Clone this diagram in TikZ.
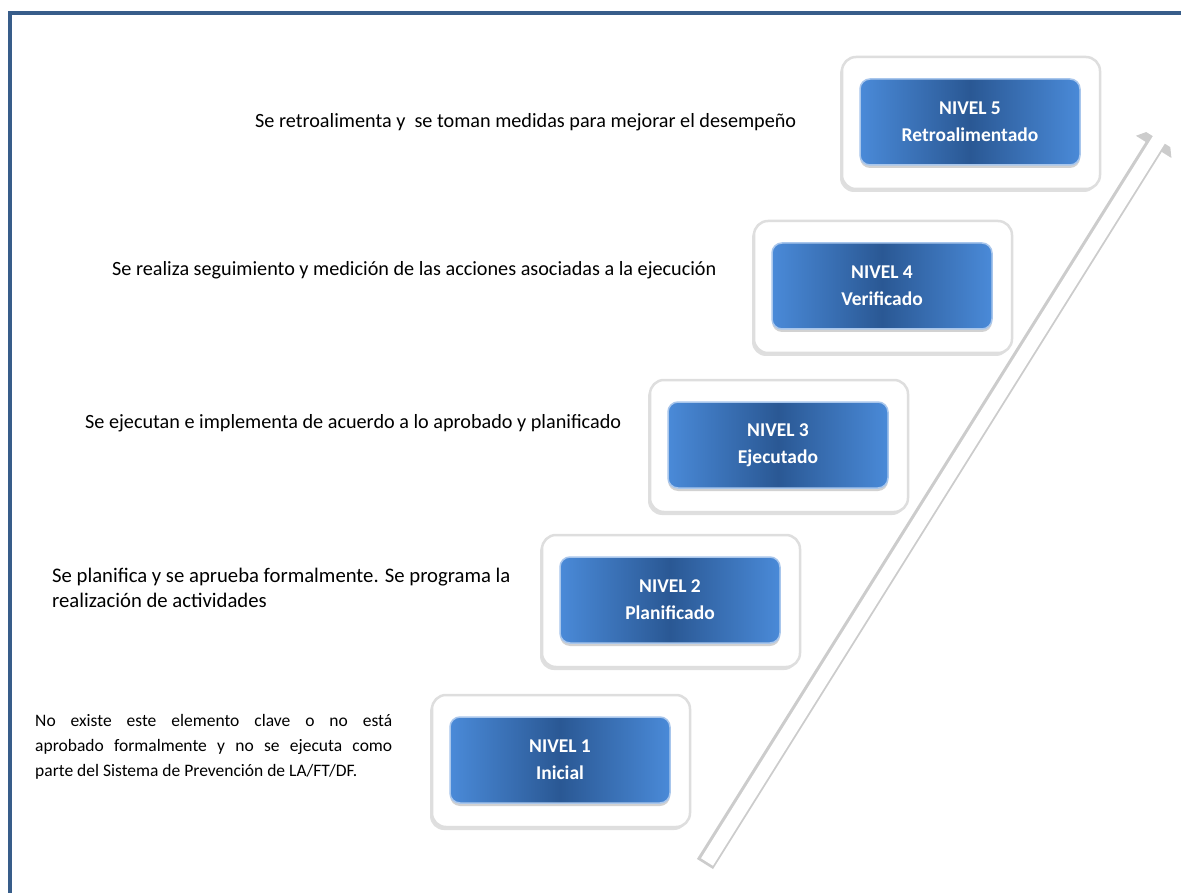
\documentclass[tikz,border=0pt]{standalone}
\usepackage{fontspec}
\setmainfont{Carlito}
\usetikzlibrary{arrows.meta,shadows,positioning}

\definecolor{marcoazul}{HTML}{385D8A}
\definecolor{azulborde}{HTML}{4A8AD8}
\definecolor{azulcentro}{HTML}{2A5894}
\definecolor{azulfilo}{HTML}{A8C6EC}

\begin{document}
\begin{tikzpicture}
 [
  x=1pt, y=-1pt,
  borde/.style={draw=marcoazul, line width=4pt},
  marco/.style={rectangle, rounded corners=14pt, fill=white, draw=black!13, line width=2.5pt, minimum width=258pt, minimum height=132pt, drop shadow={shadow xshift=-2pt, shadow yshift=-3pt, opacity=.25}},
  nivel/.style={rectangle, rounded corners=10pt, draw=azulfilo, line width=1.5pt, left color=azulborde, right color=azulborde, middle color=azulcentro, minimum width=220pt, minimum height=86pt, align=center, text=white, font=\fontsize{19.5}{27}\selectfont\bfseries, drop shadow={shadow xshift=0pt, shadow yshift=-3pt, opacity=.35}},
  texto/.style={anchor=west, inner sep=0pt, font=\fontsize{20.2}{25}\selectfont, align=left},
  sombra/.style={draw=black!20, line width=19pt, -{Triangle[length=27pt, width=40pt]}, transform canvas={xshift=-2pt, yshift=-2pt}},
  flecha/.style={draw=white, line width=14pt, -{Triangle[length=21pt, width=31pt]}},
 ]
  \useasboundingbox (0,0) rectangle (1181,893);
  \draw[borde] (10,893) -- (10,13) -- (1181,13);

  % flecha de avance
  \coordinate (inicio) at (707,862);
  \coordinate (fin) at (1170,122);
  \draw[sombra] (inicio) -- (fin);
  \draw[flecha] (inicio) -- (fin);

  % niveles
  \node [marco] (m1) at (561,761) {};
  \node [nivel] (n1) at (560,760) {NIVEL 1\\Inicial};
  \node [marco] (m2) at (671,601) {};
  \node [nivel] (n2) at (670,600) {NIVEL 2\\Planificado};
  \node [marco] (m3) at (779,446) {};
  \node [nivel] (n3) at (778,445) {NIVEL 3\\Ejecutado};
  \node [marco] (m4) at (883,287) {};
  \node [nivel] (n4) at (882,286) {NIVEL 4\\Verificado};
  \node [marco] (m5) at (971,123) {};
  \node [nivel] (n5) at (970,122) {NIVEL 5\\Retroalimentado};

  % descripciones
  \node [texto] (t5) at (255,122) {Se retroalimenta y~ se toman medidas para mejorar el desempeño};
  \node [texto] (t4) at (112,270) {Se realiza seguimiento y medición de las acciones asociadas a la ejecución};
  \node [texto] (t3) at (85,423) {Se ejecutan e implementa de acuerdo a lo aprobado y planificado};
  \node [texto, font=\fontsize{20.7}{25}\selectfont] (t2) at (52,588) {Se planifica y se aprueba formalmente. Se programa la\\realización de actividades};
  \node [texto, font=\fontsize{17.5}{25}\selectfont, text width=357pt, align=justify] (t1) at (35,747) {No existe este elemento clave o no está\linebreak aprobado formalmente y no se ejecuta como\linebreak parte del Sistema de Prevención de LA/FT/DF.};
\end{tikzpicture}
\end{document}
